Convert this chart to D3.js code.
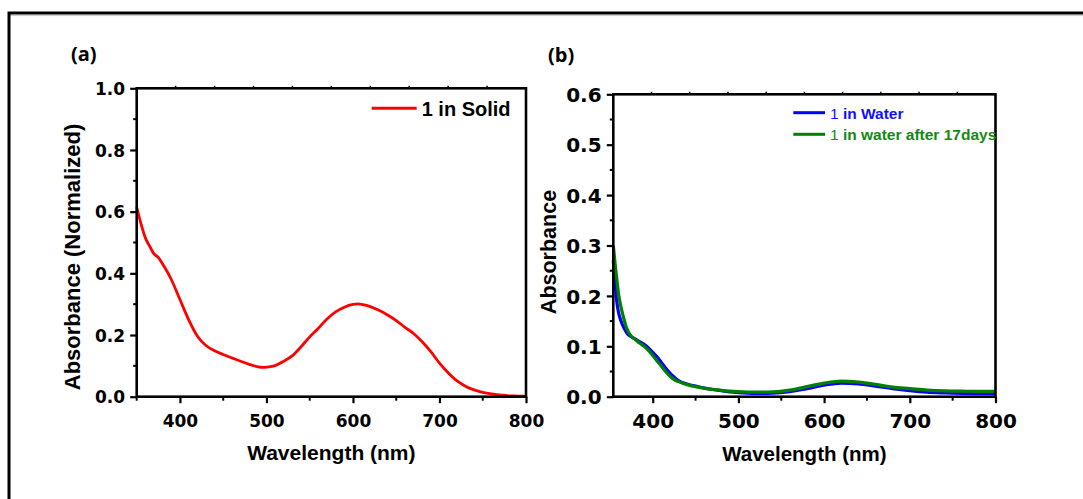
<!DOCTYPE html>
<html>
<head>
<meta charset="utf-8">
<script src="https://cdn.jsdelivr.net/npm/d3@7"></script>
<style>
  html, body { margin: 0; padding: 0; background: #fff; }
  svg { display: block; }
</style>
</head>
<body>
<script>
// ---- Panel (a): solid-state absorbance (normalized) ----
const wlSolid = [350, 355, 360, 365, 370, 375, 380, 390, 400, 410, 420, 430, 440, 450, 460, 470, 480, 490, 495, 500,
                 510, 520, 530, 540, 550, 560, 570, 580, 590, 600, 606, 610, 620, 630, 640, 650, 660, 670, 680, 690,
                 700, 710, 720, 730, 740, 750, 760, 770, 780, 790, 800];
const absSolid = [0.615, 0.56, 0.515, 0.488, 0.463, 0.452, 0.43, 0.38, 0.315, 0.25, 0.197, 0.166, 0.149, 0.137, 0.126, 0.115, 0.105, 0.097, 0.095, 0.096,
                  0.101, 0.115, 0.133, 0.162, 0.194, 0.222, 0.252, 0.275, 0.29, 0.299, 0.301, 0.299, 0.292, 0.28, 0.265, 0.247, 0.225, 0.205, 0.178, 0.146,
                  0.109, 0.078, 0.052, 0.034, 0.022, 0.014, 0.009, 0.006, 0.003, 0.002, 0.001];

// ---- Panel (b): absorbance in water, fresh and after 17 days ----
const wlWater = [354, 356, 358, 360, 363, 366, 370, 375, 380, 385, 390, 395, 400, 405, 410, 415, 420, 425, 430, 440,
                 450, 460, 470, 480, 490, 500, 520, 540, 560, 580, 600, 620, 640, 660, 680, 700, 720, 740, 760, 780, 800];
const absWater = [0.27, 0.225, 0.19, 0.168, 0.15, 0.138, 0.126, 0.119, 0.114, 0.109, 0.104, 0.097, 0.088, 0.079, 0.068, 0.057, 0.047, 0.039, 0.032, 0.025,
                  0.021, 0.017, 0.0143, 0.012, 0.0095, 0.008, 0.0065, 0.007, 0.010, 0.016, 0.023, 0.027, 0.0255, 0.021, 0.016, 0.012, 0.009, 0.0075, 0.0065, 0.006, 0.006];
const absWater17 = [0.30, 0.265, 0.235, 0.205, 0.178, 0.157, 0.134, 0.120, 0.113, 0.106, 0.100, 0.092, 0.082, 0.071, 0.061, 0.050, 0.041, 0.034, 0.030, 0.024,
                    0.020, 0.017, 0.0145, 0.0125, 0.011, 0.010, 0.009, 0.0095, 0.013, 0.020, 0.027, 0.031, 0.029, 0.0245, 0.019, 0.016, 0.013, 0.0115, 0.011, 0.0105, 0.0105];

// ---- Tick values ----
const xMajor = [400, 500, 600, 700, 800];
const xMinorA = [350, 450, 550, 650, 750];
const xMinorB = [450, 550, 650, 750];
const yMajorA = [0, 0.2, 0.4, 0.6, 0.8, 1.0];
const yMinorA = [0.1, 0.3, 0.5, 0.7, 0.9];
const yMajorB = [0, 0.1, 0.2, 0.3, 0.4, 0.5, 0.6];
const yMinorB = [0.05, 0.15, 0.25, 0.35, 0.45, 0.55];

// ---- Legend labels ----
const legendA = ["1 in Solid"];
const legendB = [" in Water", " in water after 17days"];

const W = 1083, H = 499;
const svg = d3.select("body").append("svg").attr("width", W).attr("height", H);

// outer figure border (top and left)
svg.append("line").attr("x1", 9).attr("x2", W).attr("y1", 15.6).attr("y2", 15.6)
  .attr("stroke", "#c8c8c8").attr("stroke-width", 1);
svg.append("path").attr("d", `M9,${H} V13 H${W}`)
  .attr("fill", "none").attr("stroke", "#000").attr("stroke-width", 3);

const tickFont = "'DejaVu Sans', sans-serif";
const titleFont = "'Liberation Sans', Arial, sans-serif";

function panel(opt) {
  const { x, y, xMin, yMaj, yMin, tickSize, fmtY, titleX, titleY } = opt;
  const g = svg.append("g");
  const [x0, x1] = x.range();
  const [y0, y1] = y.range(); // y0 bottom, y1 top

  // minor ticks (bottom and left)
  g.append("g").selectAll("line").data(xMin).join("line")
    .attr("x1", d => x(d)).attr("x2", d => x(d)).attr("y1", y0).attr("y2", y0 + 4)
    .attr("stroke", "#000").attr("stroke-width", 2);
  g.append("g").selectAll("line").data(yMin).join("line")
    .attr("x1", x0).attr("x2", x0 - 3.5).attr("y1", d => y(d)).attr("y2", d => y(d))
    .attr("stroke", "#000").attr("stroke-width", 2);

  // small ticks on the top edge, ten divisions
  const tops = d3.range(1, 10).map(k => x0 + (x1 - x0) * k / 10);
  g.append("g").selectAll("line").data(tops).join("line")
    .attr("x1", d => d).attr("x2", d => d).attr("y1", y1).attr("y2", y1 - 2.5)
    .attr("stroke", "#000").attr("stroke-width", 1.5);

  // bottom axis
  const ax = g.append("g").attr("transform", `translate(0,${y0})`)
    .call(d3.axisBottom(x).tickValues(xMajor).tickSize(6.5).tickSizeOuter(0).tickFormat(d3.format("d")));
  ax.select(".domain").remove();
  ax.selectAll(".tick line").attr("stroke-width", 2.2);
  ax.selectAll(".tick text")
    .attr("y", opt.xLabelBase).attr("dy", null)
    .attr("font-family", tickFont).attr("font-weight", "bold")
    .attr("font-size", tickSize).attr("fill", "#000");

  // left axis
  const ay = g.append("g").attr("transform", `translate(${x0},0)`)
    .call(d3.axisLeft(y).tickValues(yMaj).tickSize(6.5).tickSizeOuter(0).tickFormat(fmtY));
  ay.select(".domain").remove();
  ay.selectAll(".tick line").attr("stroke-width", 2.2);
  ay.selectAll(".tick text")
    .attr("x", -11.7).attr("dy", "0.36em")
    .attr("font-family", tickFont).attr("font-weight", "bold")
    .attr("font-size", tickSize).attr("fill", "#000");

  // axis titles
  g.append("text").attr("x", (x0 + x1) / 2).attr("y", titleX.base)
    .attr("text-anchor", "middle").attr("font-family", titleFont).attr("font-weight", "bold")
    .attr("font-size", titleX.size).text("Wavelength (nm)");
  g.append("text").attr("transform", `translate(${titleY.base},${titleY.cy}) rotate(-90)`)
    .attr("text-anchor", "middle").attr("font-family", titleFont).attr("font-weight", "bold")
    .attr("font-size", titleY.size).text(titleY.text);

  return g;
}

function frame(g, x, y) {
  const [x0, x1] = x.range();
  const [y0, y1] = y.range();
  g.append("rect").attr("x", x0).attr("y", y1).attr("width", x1 - x0).attr("height", y0 - y1)
    .attr("fill", "none").attr("stroke", "#000").attr("stroke-width", 2.6);
}

// ===== Panel (a) =====
const xA = d3.scaleLinear().domain([350, 800]).range([136.7, 526]);
const yA = d3.scaleLinear().domain([0, 1]).range([396.7, 88.3]);
const gA = panel({
  x: xA, y: yA, xMin: xMinorA, yMaj: yMajorA, yMin: yMinorA, tickSize: 17,
  fmtY: d3.format(".1f"), xLabelBase: 30,
  titleX: { base: 460, size: 21 },
  titleY: { base: 80, cy: 257, size: 22, text: "Absorbance (Normalized)" }
});

const lineA = d3.line().x(d => xA(d[0])).y(d => yA(d[1])).curve(d3.curveMonotoneX);
gA.append("path").datum(d3.zip(wlSolid, absSolid)).attr("d", lineA)
  .attr("fill", "none").attr("stroke", "#ff0000").attr("stroke-width", 2.8).attr("stroke-linejoin", "round");
frame(gA, xA, yA);

gA.append("text").attr("x", 71).attr("y", 61).attr("font-family", "'Open Sans', sans-serif")
  .attr("font-weight", 700).attr("font-size", 20).text("(a)");

// legend (a)
gA.append("line").attr("x1", 371.7).attr("x2", 416.7).attr("y1", 108.3).attr("y2", 108.3)
  .attr("stroke", "#ff0000").attr("stroke-width", 3);
gA.append("text").attr("x", 421.7).attr("y", 116).attr("font-family", titleFont)
  .attr("font-weight", "bold").attr("font-size", 20).text(legendA[0]);

// ===== Panel (b) =====
const xB = d3.scaleLinear().domain([354, 800]).range([613.3, 995.5]);
const yB = d3.scaleLinear().domain([0, 0.6]).range([396.7, 94.3]);
const gB = panel({
  x: xB, y: yB, xMin: xMinorB, yMaj: yMajorB, yMin: yMinorB, tickSize: 20,
  fmtY: d3.format(".1f"), xLabelBase: 31.5,
  titleX: { base: 461, size: 20.5 },
  titleY: { base: 555.5, cy: 252, size: 21.5, text: "Absorbance" }
});

const lineB = d3.line().x(d => xB(d[0])).y(d => yB(d[1])).curve(d3.curveMonotoneX);
gB.append("path").datum(d3.zip(wlWater, absWater)).attr("d", lineB)
  .attr("fill", "none").attr("stroke", "#0000ff").attr("stroke-width", 3.2).attr("stroke-linejoin", "round");
gB.append("path").datum(d3.zip(wlWater, absWater17)).attr("d", lineB)
  .attr("fill", "none").attr("stroke", "#008000").attr("stroke-width", 3.2).attr("stroke-linejoin", "round");
frame(gB, xB, yB);

gB.append("text").attr("x", 548).attr("y", 62).attr("font-family", "'Open Sans', sans-serif")
  .attr("font-weight", 700).attr("font-size", 20).text("(b)");

// legend (b)
const legColors = ["#0000ff", "#008000"];
const legText = ["#1010ff", "#138a13"];
const legY = [112.7, 134.3];
legendB.forEach((t, i) => {
  gB.append("line").attr("x1", 793.3).attr("x2", 825).attr("y1", legY[i]).attr("y2", legY[i])
    .attr("stroke", legColors[i]).attr("stroke-width", 3);
  const tx = gB.append("text").attr("x", 830).attr("y", legY[i] + 6)
    .attr("font-family", titleFont).attr("font-size", 15.5).attr("fill", legText[i]);
  tx.append("tspan").attr("font-weight", "normal").text("1");
  tx.append("tspan").attr("font-weight", "bold").text(t);
});
</script>
</body>
</html>
